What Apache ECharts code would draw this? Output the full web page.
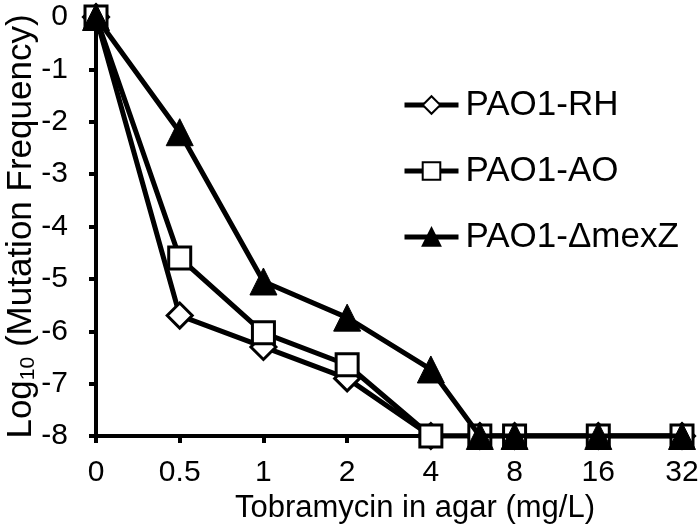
<!DOCTYPE html>
<html>
<head>
<meta charset="utf-8">
<script src="https://cdn.jsdelivr.net/npm/echarts@6/dist/echarts.min.js"></script>
<style>html,body{margin:0;padding:0;background:#fff;}#chart{width:700px;height:528px;}</style>
</head>
<body>
<div id="chart"></div>
<script>
// Tobramycin concentrations (mg/L) at which frequencies were measured
var concentrations = [0, 0.5, 1, 2, 4, 6, 8, 16, 32];
var xTickLabels = ['0', '0.5', '1', '2', '4', '8', '16', '32'];
var yTicks = [0, -1, -2, -3, -4, -5, -6, -7, -8];
var seriesNames = ['PAO1-RH', 'PAO1-AO', 'PAO1-\u0394mexZ'];
var rhValues   = [0, -5.7, -6.3, -6.9, -8, -8, -8, -8, -8];
var aoValues   = [0, -4.6, -6.03, -6.64, -8, -8, -8, -8, -8];
var mexZValues = [0, -2.2, -5.05, -5.74, -6.73, -8, -8, -8, -8];

var FONT = '"Liberation Sans", Arial, sans-serif';
// axis position: 0 placed one step left of 0.5; then log2 spacing
function pos(c) { return c === 0 ? 0 : Math.log2(c) + 2; }
function pts(vals) { return concentrations.map(function (c, i) { return [pos(c), vals[i]]; }); }

var chart = echarts.init(document.getElementById('chart'), null, {renderer: 'canvas'});
var lineStyle = {color: '#000', width: 5};
chart.setOption({
  backgroundColor: '#fff',
  animation: false,
  grid: {left: 96, right: 18, top: 17, bottom: 92, containLabel: false, outerBoundsMode: 'none'},
  legend: {
    orient: 'vertical', left: 402, top: 87, padding: 0,
    itemWidth: 54, itemHeight: 22, itemGap: 30,
    lineStyle: {width: 5, color: '#000'},
    textStyle: {fontFamily: FONT, fontSize: 35, color: '#000', lineHeight: 36, padding: [0, 0, 0, 2]},
    data: seriesNames
  },
  xAxis: {
    type: 'value', min: 0, max: 7, interval: 1,
    name: 'Tobramycin in agar (mg/L)', nameLocation: 'middle', nameGap: 56,
    nameTextStyle: {fontFamily: FONT, fontSize: 31, color: '#000', padding: [0, 0, 0, 52]},
    axisLine: {show: true, onZero: false, lineStyle: {color: '#000', width: 4}},
    axisTick: {show: true, length: 7, lineStyle: {color: '#000', width: 4}},
    axisLabel: {fontFamily: FONT, fontSize: 30, color: '#000', margin: 22,
      formatter: function (v) { return xTickLabels[Math.round(v)]; }},
    splitLine: {show: false}
  },
  yAxis: {
    type: 'value', min: yTicks[yTicks.length - 1], max: yTicks[0], interval: 1,
    name: 'Log{sub|10} (Mutation Frequency)', nameLocation: 'middle', nameGap: 57, nameRotate: 90,
    nameMoveOverlap: false,
    nameTextStyle: {fontFamily: FONT, fontSize: 35, color: '#000',
      rich: {sub: {fontFamily: FONT, fontSize: 21, color: '#000', verticalAlign: 'bottom', padding: [14, 0, 0, 0]}}},
    axisLine: {show: true, onZero: false, lineStyle: {color: '#000', width: 4}},
    axisTick: {show: true, length: 7, lineStyle: {color: '#000', width: 4}},
    axisLabel: {fontFamily: FONT, fontSize: 30, color: '#000', margin: 28},
    splitLine: {show: false}
  },
  series: [
    {name: seriesNames[0], type: 'line', data: pts(rhValues), symbol: 'diamond', symbolSize: 25,
     lineStyle: lineStyle, itemStyle: {color: '#fff', borderColor: '#000', borderWidth: 3}, z: 2},
    {name: seriesNames[1], type: 'line', data: pts(aoValues), symbol: 'rect', symbolSize: 22,
     lineStyle: lineStyle, itemStyle: {color: '#fff', borderColor: '#000', borderWidth: 3}, z: 3},
    {name: seriesNames[2], type: 'line', data: pts(mexZValues), symbol: 'triangle', symbolSize: 27,
     lineStyle: lineStyle, itemStyle: {color: '#000', borderColor: '#000', borderWidth: 1}, z: 4}
  ]
});
</script>
</body>
</html>
